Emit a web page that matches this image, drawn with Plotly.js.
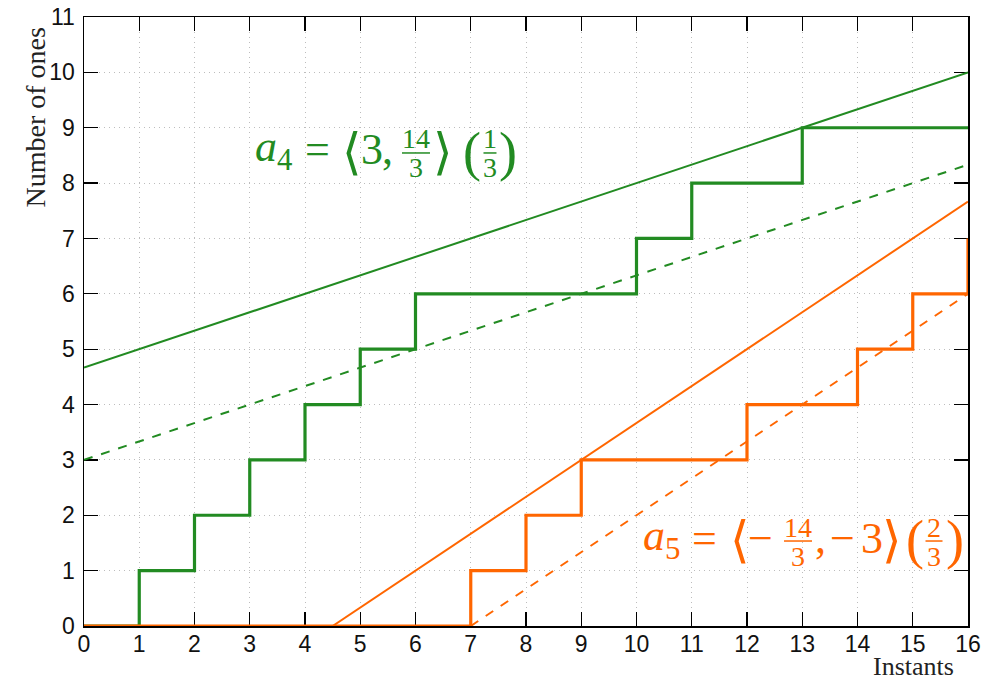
<!DOCTYPE html>
<html>
<head>
<meta charset="utf-8">
<script src="https://cdn.plot.ly/plotly-3.0.1.min.js"></script>
<style>
  body { margin: 0; background: #fff; }
  #chart { width: 985px; height: 683px; }
</style>
</head>
<body>
<div id="chart"></div>
<script>
// instants and counts for the two step series
var instants = [0, 1, 2, 3, 4, 5, 6, 7, 8, 9, 10, 11, 12, 13, 14, 15, 16];
var onesA4 = [0, 1, 2, 3, 4, 5, 6, 6, 6, 6, 7, 8, 8, 9, 9, 9, 9];
var onesA5 = [0, 0, 0, 0, 0, 0, 0, 1, 2, 3, 3, 3, 4, 4, 5, 6, 7];

// bounding lines (end points)
var a4UpperX = [0, 16];
var a4UpperY = [4.667, 10];
var a4LowerX = [0, 16];
var a4LowerY = [3, 8.333];
var a5UpperX = [4.5, 16];
var a5UpperY = [0, 7.667];
var a5LowerX = [7, 16];
var a5LowerY = [0, 6];

var xTicks = [0, 1, 2, 3, 4, 5, 6, 7, 8, 9, 10, 11, 12, 13, 14, 15, 16];
var yTicks = [0, 1, 2, 3, 4, 5, 6, 7, 8, 9, 10, 11];

var green = '#228B22';
var orange = '#FF6600';
var serif = 'Liberation Serif, DejaVu Serif, serif';

var data = [
  {x: a4UpperX, y: a4UpperY, mode: 'lines', line: {color: green, width: 2}, cliponaxis: false},
  {x: a4LowerX, y: a4LowerY, mode: 'lines', line: {color: green, width: 2, dash: 'dash'}, cliponaxis: false},
  {x: a5UpperX, y: a5UpperY, mode: 'lines', line: {color: orange, width: 2}, cliponaxis: false},
  {x: a5LowerX, y: a5LowerY, mode: 'lines', line: {color: orange, width: 2, dash: 'dash'}, cliponaxis: false},
  {x: instants, y: onesA4, mode: 'lines', line: {color: green, width: 3.2, shape: 'hv'}, cliponaxis: false},
  {x: instants, y: onesA5, mode: 'lines', line: {color: orange, width: 3.2, shape: 'hv'}, cliponaxis: false}
];

// formula labels, built piece by piece around an anchor (the fraction bar height)
var annotations = [];
var shapes = [];

function piece(ax, ay, text, dx, dy, size, color) {
  annotations.push({
    x: ax, y: ay, xref: 'x', yref: 'y', text: text, showarrow: false,
    xanchor: 'center', yanchor: 'middle', xshift: dx, yshift: -dy,
    font: {family: serif, size: size, color: color}
  });
}
function fracBar(ax, ay, dx0, dx1, color) {
  shapes.push({
    type: 'line', xref: 'x', yref: 'y', xsizemode: 'pixel', ysizemode: 'pixel',
    xanchor: ax, yanchor: ay, x0: dx0, x1: dx1, y0: 0, y1: 0,
    line: {color: color, width: 1.5}
  });
}
function frac(ax, ay, num, den, dx, w, color) {
  piece(ax, ay, num, dx, -14, 28, color);
  piece(ax, ay, den, dx, 15, 28, color);
  fracBar(ax, ay, dx - w / 2, dx + w / 2, color);
}

// a4 label
var g = [3.149, 8.544];
piece(g[0], g[1], '<i>a</i><sub>4</sub>', 16, -3, 44, green);
piece(g[0], g[1], '=', 60, -3, 44, green);
piece(g[0], g[1], '⟨', 94, -1, 50, green);
piece(g[0], g[1], '3', 114, -3, 44, green);
piece(g[0], g[1], ',', 130, -3, 44, green);
frac(g[0], g[1], '14', '3', 158, 28, green);
piece(g[0], g[1], '⟩', 185, -1, 50, green);
piece(g[0], g[1], '(', 214, -1, 54, green);
frac(g[0], g[1], '1', '3', 232, 13, green);
piece(g[0], g[1], ')', 250, -1, 54, green);

// a5 label
var o = [10.154, 1.535];
piece(o[0], o[1], '<i>a</i><sub>5</sub>', 16, -3, 44, orange);
piece(o[0], o[1], '=', 59, -3, 44, orange);
piece(o[0], o[1], '⟨', 95, -1, 50, orange);
piece(o[0], o[1], '−', 115, -3, 44, orange);
frac(o[0], o[1], '14', '3', 153, 28, orange);
piece(o[0], o[1], ',', 175, -3, 44, orange);
piece(o[0], o[1], '−', 197, -3, 44, orange);
piece(o[0], o[1], '3', 227, -3, 44, orange);
piece(o[0], o[1], '⟩', 247, -1, 50, orange);
piece(o[0], o[1], '(', 270, -1, 54, orange);
frac(o[0], o[1], '2', '3', 289, 17, orange);
piece(o[0], o[1], ')', 310, -1, 54, orange);

// axis titles sit at the ends, not centred
annotations.push({
  xref: 'paper', yref: 'paper', x: -0.0554, y: 0.835, text: 'Number of ones',
  textangle: -90, showarrow: false, xanchor: 'center', yanchor: 'middle',
  font: {family: serif, size: 28, color: '#222'}
});
annotations.push({
  xref: 'paper', yref: 'paper', x: 0.938, y: -0.067, text: 'Instants',
  showarrow: false, xanchor: 'center', yanchor: 'middle',
  font: {family: serif, size: 26, color: '#222'}
});

var axisCommon = {
  showline: true, mirror: 'ticks', linecolor: '#000', linewidth: 1.5,
  ticks: 'inside', ticklen: 14, tickwidth: 1.3, tickcolor: '#000',
  showgrid: true, gridcolor: '#bdbdbd', griddash: '1px,4px', gridwidth: 1,
  zeroline: false, layer: 'below traces',
  tickfont: {family: 'Liberation Sans, Arial, sans-serif', size: 23, color: '#111'}
};

var layout = {
  width: 985, height: 683, autosize: false,
  margin: {l: 84, r: 17, t: 17, b: 57},
  showlegend: false,
  paper_bgcolor: '#fff', plot_bgcolor: '#fff',
  xaxis: Object.assign({}, axisCommon, {range: [0, 16], tickvals: xTicks, ticklabelstandoff: -3}),
  yaxis: Object.assign({}, axisCommon, {range: [0, 11], tickvals: yTicks, ticklabelstandoff: 3}),
  annotations: annotations,
  shapes: shapes
};

Plotly.newPlot('chart', data, layout, {displayModeBar: false, staticPlot: true});
</script>
</body>
</html>
